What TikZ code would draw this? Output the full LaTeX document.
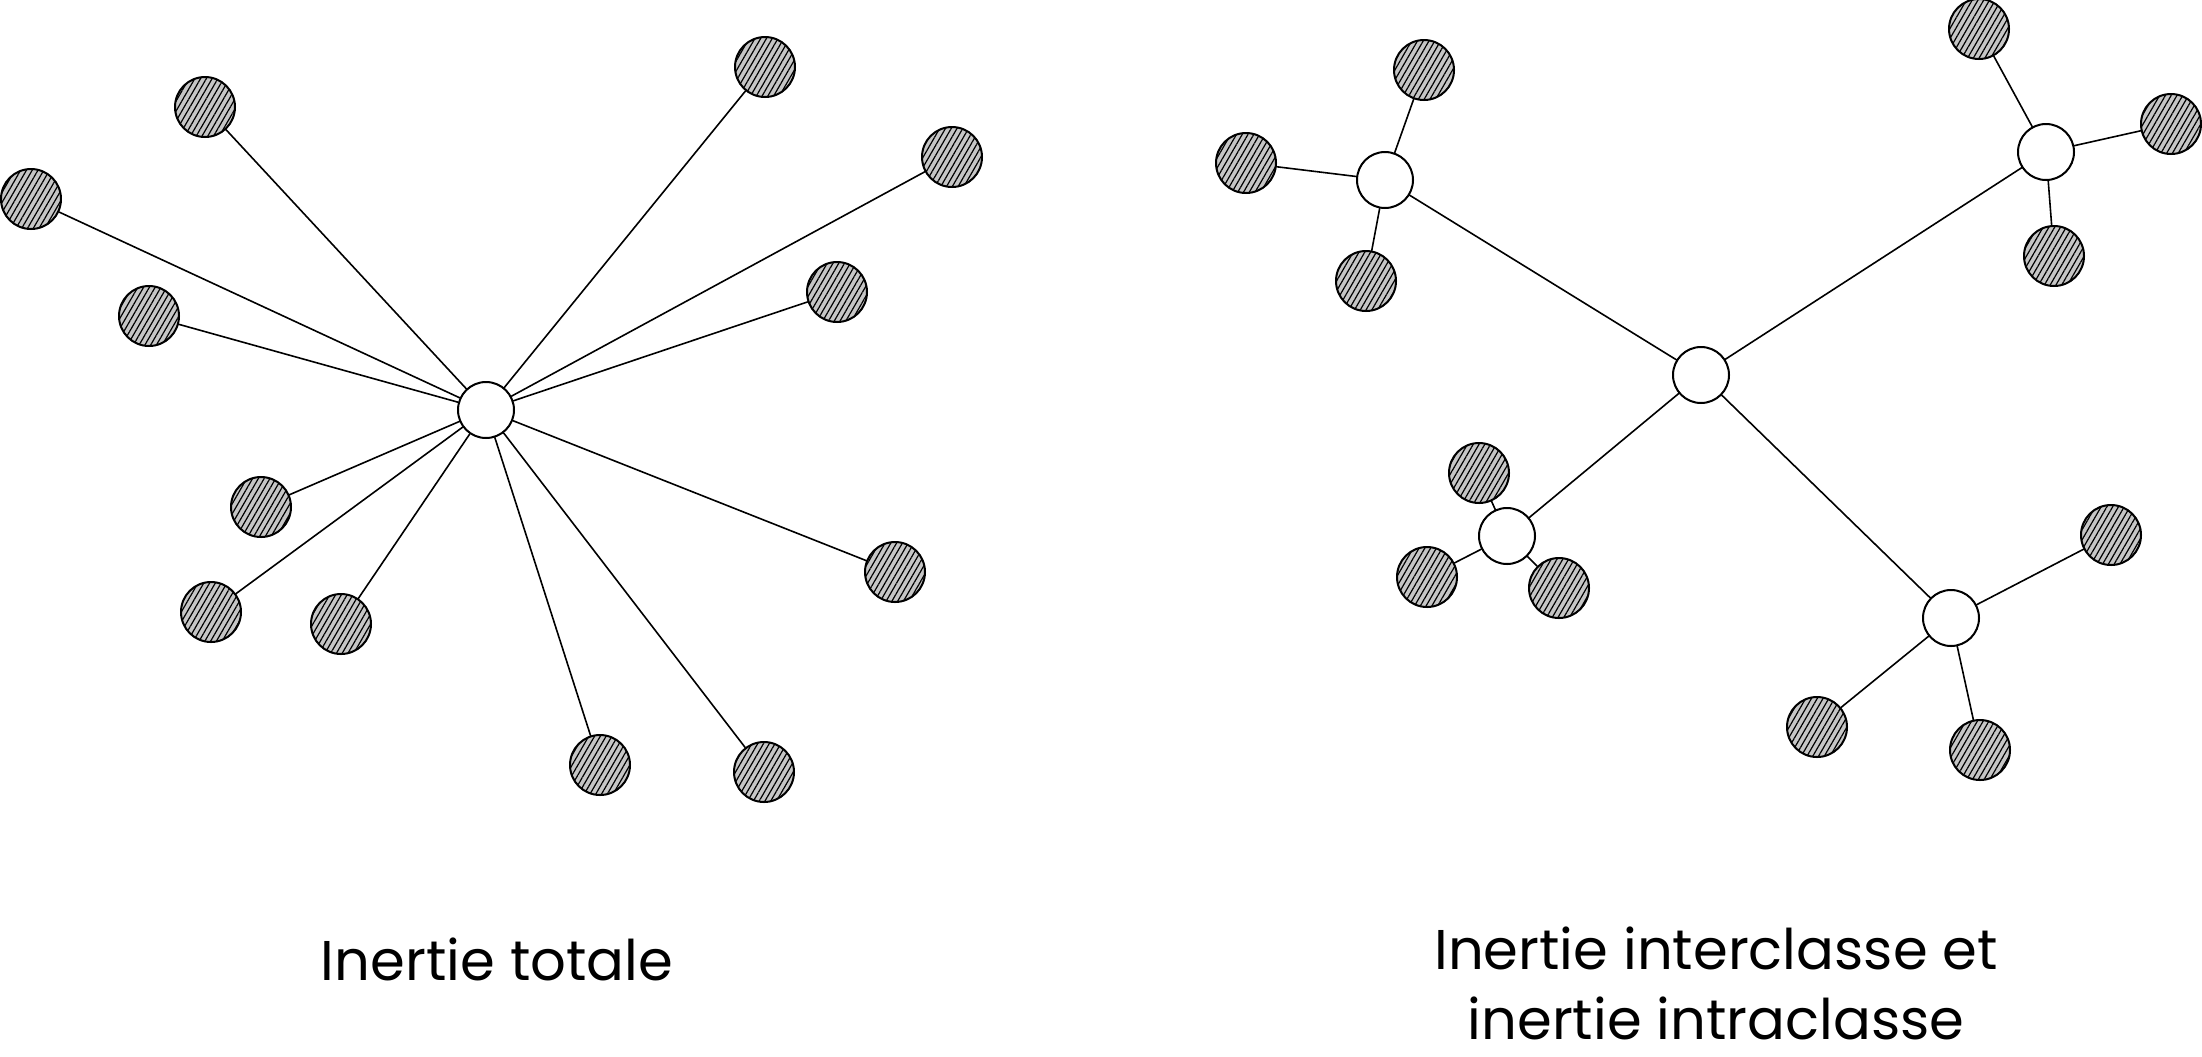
\documentclass[tikz,border=0pt]{standalone}
\usepackage{fontspec}
\setmainfont{Poppins}
\usetikzlibrary{patterns.meta}

\tikzset{
  hub/.style={circle, draw, line width=1pt, fill=white, minimum size=28pt, inner sep=0pt},
  point/.style={circle, draw, line width=1pt, minimum size=30pt, inner sep=0pt,
    preaction={fill=gray!45}, pattern={Lines[angle=60,distance=2.5pt,line width=0.6pt]}},
  link/.style={line width=0.8pt},
  caption/.style={font=\fontsize{28}{35}\selectfont, align=center, inner sep=0pt}
}

\begin{document}
\begin{tikzpicture}[x=0.5pt, y=-0.5pt, line join=round, line cap=round]
  \useasboundingbox (0,0) rectangle (2202,1056);
  % inertie totale
  \node[hub] (G) at (486,410) {};
  \foreach \p/\x/\y in {1/205/107, 2/31/199, 3/149/316, 4/765/67, 5/952/157, 6/837/292,
      7/261/507, 8/211/612, 9/341/624, 10/895/572, 11/600/765, 12/764/772} {
    \node[point] (P\p) at (\x,\y) {};
    \draw[link] (G) -- (P\p);
  }
  \node[caption] (capG) at (497,959) {Inertie totale};
  % inertie interclasse et intraclasse
  \node[hub] (H) at (1701,375) {};
  \foreach \c/\x/\y in {A/1385/180, B/2046/152, C/1507/536, D/1951/618} {
    \node[hub] (\c) at (\x,\y) {};
    \draw[link] (H) -- (\c);
  }
  \foreach \c/\n/\x/\y in {A/1/1424/70, A/2/1246/163, A/3/1366/281,
      B/1/1979/29, B/2/2171/124, B/3/2054/256,
      C/1/1479/473, C/2/1427/577, C/3/1559/588,
      D/1/2111/535, D/2/1817/727, D/3/1980/750} {
    \node[point] (\c\n) at (\x,\y) {};
    \draw[link] (\c) -- (\c\n);
  }
  \node[caption] (capH) at (1716,983) {Inertie interclasse et\\inertie intraclasse};
\end{tikzpicture}
\end{document}
